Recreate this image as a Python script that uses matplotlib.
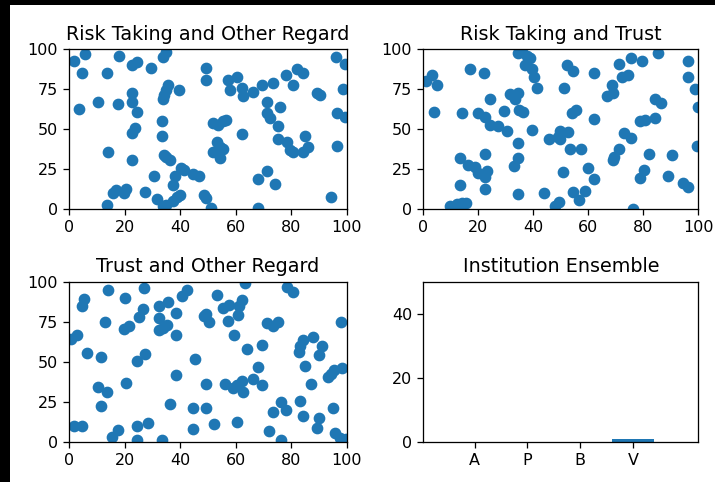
import numpy as np
import matplotlib
matplotlib.use("Agg")
import matplotlib.pyplot as plt
from matplotlib.patches import Rectangle

# Risk Taking (x) vs Other Regard (y)
rt_or_x = [1.7, 5.6, 4.4, 3.6, 10.5, 13.5, 18, 22.5, 24.3, 29.4, 33.9, 35, 22.5, 22.5, 24.3, 17.7,
           14, 23.7, 22.5, 22.5, 15.9, 17, 19.7, 20.4, 13.5, 27.3, 30.5, 31.5, 33.9, 35, 37.5, 38.7,
           40, 37.3, 38.1, 40.3, 41.3, 44.7, 46.9, 48.6, 49.3, 51, 34.1, 35, 36.3, 33.5, 33.5, 33.9,
           34.1, 35, 35.7, 39.7, 49.3, 49.3, 51.9, 53.7, 55.3, 56.5, 51.9, 53.4, 54.3, 55.5, 54.3,
           52.9, 57.3, 57.9, 60.3, 62.1, 62.5, 62.1, 66.3, 69.4, 73.3, 71.2, 71.2, 72.4, 76, 75.4,
           75.4, 67.9, 71.2, 74.2, 67.9, 78.1, 80.5, 82.2, 84.4, 78.4, 79.6, 80.5, 84.4, 85, 86.2,
           89.2, 90.4, 96.2, 99.4, 98.8, 96.4, 99.4, 96.4, 94.2]
rt_or_y = [93, 97, 85, 63, 67, 85, 96, 90, 92, 88.5, 95, 98.5, 73, 67, 61, 66,
           36, 51, 48, 31, 10, 12, 10, 13, 3, 11, 21, 6.5, 2, 3, 5, 8,
           9, 15, 21, 26, 24.6, 22, 21, 9, 7, 0.6, 34, 33, 31, 46, 55, 69,
           71.5, 74.6, 77.7, 74.6, 88.5, 81, 54, 53, 55, 56, 36, 42, 39, 38, 32,
           36, 81, 74.6, 83, 75.6, 71, 47, 73.5, 78, 79, 67, 60, 57, 64, 52,
           44, 19, 24, 16, 1, 84, 78, 88, 85, 42, 37, 36, 36, 46, 39,
           73, 71.5, 95, 90.6, 75, 60, 58, 39.6, 8]

# Risk Taking (x) vs Trust (y)
rt_tr_x = [0.8, 3, 4.8, 4, 17, 22.2, 13.9, 20, 22.4, 24.2, 24.2, 27.3, 30.3, 29.3, 31.5, 33.3,
           34.3, 34.8, 36.4, 34.3, 35.8, 37.6, 38.8, 37, 39.4, 40.4, 41.2, 39.4, 34.3, 34.3, 33.1,
           34.3, 13.3, 16.4, 18.8, 20, 22.4, 23, 22.4, 22.4, 13.3, 9.7, 12.1, 13.9, 15.5, 44,
           45.8, 49, 49.7, 52.5, 49.7, 47.9, 49.3, 50.9, 53.3, 57.3, 54.5, 56.5, 58.8, 60, 62,
           62.2, 53.9, 55.4, 51.2, 52.1, 54.5, 62.2, 66.7, 68.5, 69.1, 71.3, 72.1, 74.5, 75.5,
           79.4, 85.2, 69.5, 71.3, 69.1, 73.1, 75.5, 76.4, 78.8, 80.4, 78.8, 80.6, 84.2, 84.2,
           86.4, 82.2, 89.1, 90.5, 94.5, 96.4, 96.1, 96.1, 98.8, 100, 99.4]
rt_tr_y = [80.4, 84, 77.7, 61, 87.7, 85, 60, 60, 58, 53, 69, 52, 49, 61.7, 72, 69,
           73, 62, 61, 97.5, 98.5, 96, 94.4, 90, 88, 82.5, 76, 49.6, 41.7, 32, 27,
           9.6, 32, 28, 26.7, 23, 34.6, 24, 20, 12.5, 15, 2, 3.3, 4, 3.8, 10.4,
           43.8, 45, 49, 48.5, 43.8, 2, 4.4, 23.5, 37.5, 37.7, 11, 6, 11.7, 26, 18.75,
           56.5, 60, 62, 76, 90, 86.7, 85, 71, 77.7, 72.5, 90.6, 82.5, 84, 94.8,
           92.7, 97.5, 33, 37.7, 31, 48, 44.8, 0, 19.8, 24.6, 55, 56, 56.9, 68.75,
           66.25, 34.6, 20.8, 34, 16.7, 14.2, 92.7, 83, 75, 63.75, 39.8]

# Trust (x) vs Other Regard (y)
tr_or_x = [0.5, 2.6, 4.4, 5.4, 6.5, 14.1, 12.9, 11.4, 10.5, 13.5, 11.3, 1.7, 4.4, 15.5, 17.4,
           20.1, 19.7, 21.6, 20.4, 26.7, 25.2, 26.9, 24.3, 27.3, 24.3, 24.3, 28.5, 32.5, 32.5,
           32.5, 35.5, 35.1, 33.9, 38.3, 38.3, 38.3, 36.3, 33.3, 40.5, 42.5, 45.3, 44.5, 44.5,
           49.2, 48.6, 50.2, 49.3, 49.3, 52.3, 53.4, 55.3, 57.7, 57.3, 59.4, 60.9, 61.3, 62.1,
           63.3, 56.1, 59.1, 60.6, 62.1, 62.5, 60.3, 64.2, 66.3, 68.1, 69.4, 69.4, 71.2, 73.3,
           75.4, 73.3, 72.1, 76.2, 76.2, 78.1, 78.4, 80.5, 82.9, 83.2, 84.4, 85, 88, 90.1, 91.2,
           87, 83.2, 84.4, 89.2, 90.1, 93.4, 94.2, 95.6, 98.2, 97.8, 95, 95.8, 97.6, 99.8]
tr_or_y = [64, 67, 85, 89, 55.6, 94.8, 75, 53, 34.4, 30.8, 22.3, 9.8, 9.8, 2.7, 7.3,
           89.6, 70.4, 72.5, 36.9, 83, 77.7, 95.8, 50.6, 54.6, 10, 1, 11.9, 85, 77.5,
           69.8, 87.5, 73, 70.8, 80.6, 66.7, 41.7, 23.3, 1, 91.25, 94.8, 52, 20.8, 7.7,
           80, 78.5, 75, 36, 20.8, 10.8, 91.7, 83.3, 85.4, 75.6, 66.7, 79, 85, 88.5,
           99, 35.8, 33.3, 35.4, 38, 31.25, 12.5, 57.7, 39, 47, 60.4, 35.4, 74, 72.3,
           75, 18.75, 6.9, 1, 24.6, 19.8, 96.9, 93.75, 56.25, 59.8, 63.5, 47.5, 65.6, 54.2, 59.8,
           36, 25.6, 16.25, 8.75, 14.6, 40.2, 42.3, 44.8, 45.8, 75, 20.8, 5.2, 2.5, 1.5]

# Institution ensemble counts
institutions = ["A", "P", "B", "V"]
counts = [0, 0, 0, 1]

fig = plt.figure(figsize=(715 / 115, 482 / 115), dpi=115, facecolor="black")
fig.patches.append(Rectangle((10 / 715, 0), 1, 1 - 5 / 482, transform=fig.transFigure,
                             facecolor="white", edgecolor="none", zorder=-10))

W, H = 715, 482
def box(l, r, t, b):
    return [l / W, 1 - b / H, (r - l) / W, (b - t) / H]

ax1 = fig.add_axes(box(69.3, 346.7, 49.3, 209.3))
ax2 = fig.add_axes(box(423.3, 698.3, 49.3, 209.3))
ax3 = fig.add_axes(box(69.3, 346.7, 281.7, 441.7))
ax4 = fig.add_axes(box(423.3, 698.3, 281.7, 441.7))

for ax, xs, ys, title in [(ax1, rt_or_x, rt_or_y, "Risk Taking and Other Regard"),
                          (ax2, rt_tr_x, rt_tr_y, "Risk Taking and Trust"),
                          (ax3, tr_or_x, tr_or_y, "Trust and Other Regard")]:
    ax.scatter(xs, ys, s=40, color="#1f77b4")
    ax.set_xlim(0, 100)
    ax.set_ylim(0, 100)
    ax.set_xticks([0, 20, 40, 60, 80, 100])
    ax.set_yticks([0, 25, 50, 75, 100])
    ax.set_title(title)

pos = np.arange(len(institutions))
ax4.bar(pos, counts, width=0.8, color="#1f77b4")
ax4.set_xticks(pos)
ax4.set_xticklabels(institutions)
ax4.set_xlim(-0.975, 4.24)
ax4.set_ylim(0, 50)
ax4.set_yticks([0, 20, 40])
ax4.set_title("Institution Ensemble")

fig.savefig("out.png", dpi=115, facecolor=fig.get_facecolor())
